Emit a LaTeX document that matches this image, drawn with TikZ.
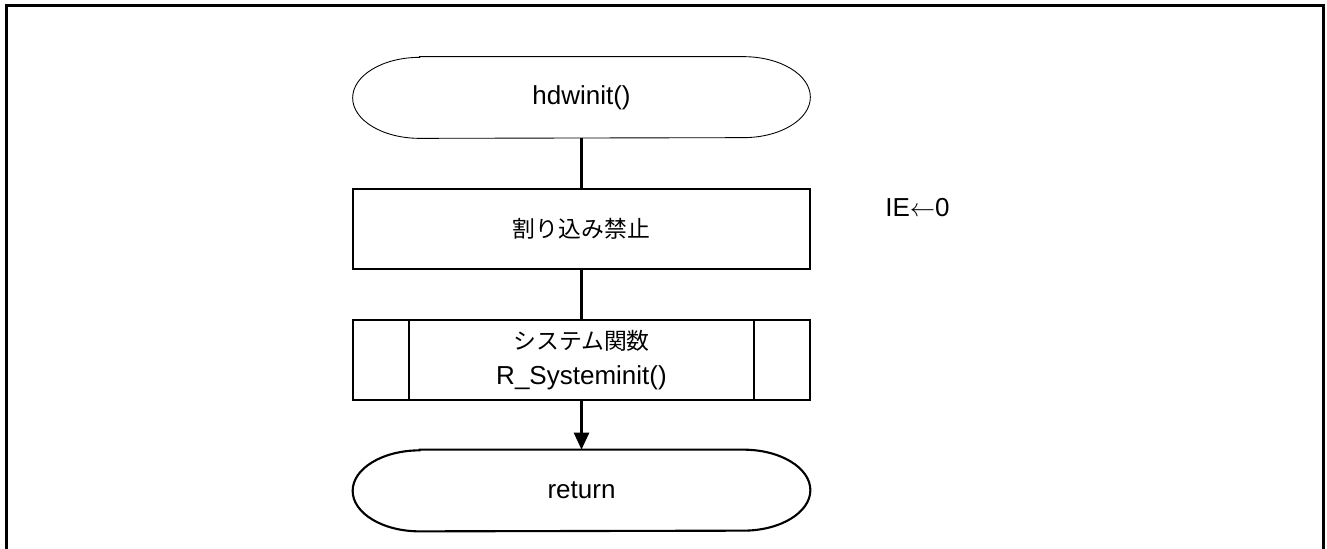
\documentclass[tikz,border=0pt]{standalone}
\usepackage{fontspec}
\setmainfont{Liberation Sans}
\newfontfamily\jafont{Noto Sans CJK JP}
\usetikzlibrary{arrows.meta}

\tikzset{
  txt/.style={font=\fontsize{14.8}{19.9}\selectfont, align=center},
  termbox/.style={txt, minimum width=9.14cm, minimum height=1.62cm, inner sep=0pt},
  procbox/.style={txt, draw, line width=1.1pt, minimum width=9.14cm, minimum height=1.60cm, inner sep=0pt},
  flow/.style={line width=1.5pt}
}

\begin{document}
\begin{tikzpicture}
        \useasboundingbox (0, 0) rectangle (26.54, 10.96);
        \draw[line width=1.6pt] (0.13, -0.5) rectangle (26.47, 10.85);
        \node[termbox] (start) at (11.63, 9.01) {hdwinit()};
        \node[procbox] (intoff) at (11.63, 6.38) {\jafont\fontsize{13}{19.9}\selectfont 割り込み禁止};
        \node[procbox] (sysinit) at (11.63, 3.76) {{\jafont\fontsize{13}{19.9}\selectfont システム関数}\\R\_Systeminit()};
        \node[termbox] (ret) at (11.63, 1.15) {return};
        \node[txt] (ienote) at (18.35, 6.80) {IE$\leftarrow$0};
        % terminal outlines with elliptical ends
        \foreach \n/\w in {start/0.5pt, ret/1.2pt} {
            \draw[line width=\w] ([xshift=1.34cm]\n.north west) -- ([xshift=-1.34cm]\n.north east)
                arc[start angle=90, end angle=-90, x radius=1.34, y radius=0.81]
                -- ([xshift=1.34cm]\n.south west)
                arc[start angle=270, end angle=90, x radius=1.34, y radius=0.81] -- cycle;
        }
        \draw[line width=1.1pt] ([xshift=1.14cm]sysinit.north west) -- ([xshift=1.14cm]sysinit.south west);
        \draw[line width=1.1pt] ([xshift=-1.14cm]sysinit.north east) -- ([xshift=-1.14cm]sysinit.south east);
        \draw[flow] (start) -- (intoff);
        \draw[flow] (intoff) -- (sysinit);
        \draw[flow, -{Triangle[length=0.34cm, width=0.30cm]}] (sysinit) -- (ret);
    \end{tikzpicture}
\end{document}
